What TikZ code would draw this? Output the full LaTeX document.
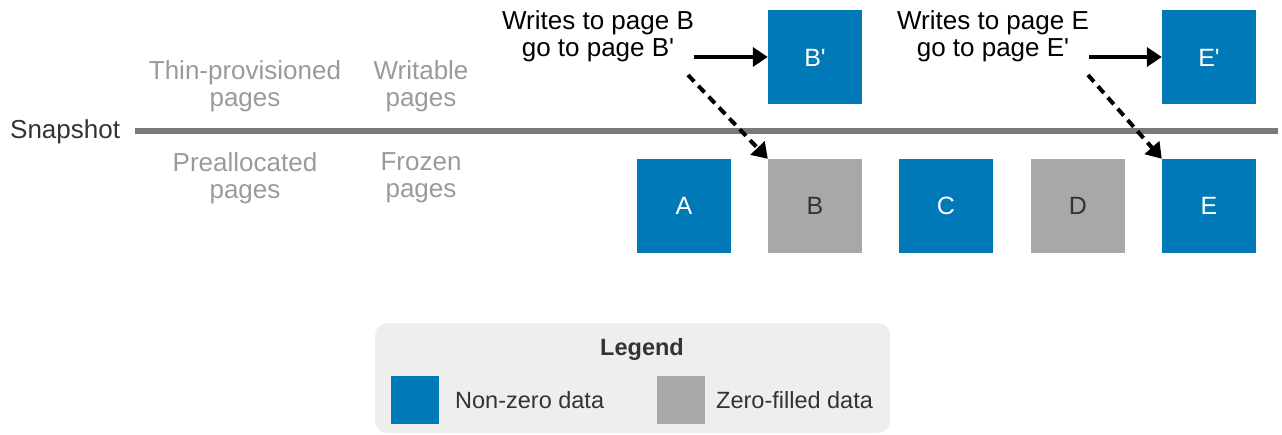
\documentclass[tikz,border=0pt]{standalone}
\usepackage{fontspec}
\setmainfont{Liberation Sans}[Ligatures=TeXOff]
\usetikzlibrary{arrows.meta}
\definecolor{pblue}{HTML}{0079B8}
\definecolor{pgray}{HTML}{A8A8A8}
\definecolor{lbl}{HTML}{9A9A9A}
\definecolor{dark}{HTML}{333333}
\definecolor{legbg}{HTML}{EEEEEE}
\tikzset{
  page/.style={minimum width=94pt, minimum height=94pt, inner sep=0pt, font=\fontsize{25}{26}\selectfont},
  nz/.style={page, fill=pblue, text=white},
  zf/.style={page, fill=pgray, text=dark},
  graylbl/.style={align=center, text=lbl, font=\fontsize{26}{27}\selectfont, inner sep=0pt},
  writelbl/.style={align=center, text=black, font=\fontsize{26}{27}\selectfont, inner sep=0pt},
  solidarr/.style={line width=4pt, -{Triangle[length=15pt,width=19pt]}},
  dasharr/.style={line width=4pt, dash pattern=on 9pt off 6pt, -{Triangle[length=15pt,width=19pt]}},
  legsq/.style={minimum width=48pt, minimum height=48pt, inner sep=0pt},
  legtxt/.style={text=dark, font=\fontsize{23.5}{25}\selectfont, inner sep=0pt, anchor=west}
}
\begin{document}
\begin{tikzpicture}[x=1pt,y=-1pt]
\useasboundingbox (0,0) rectangle (1282,435);
% snapshot line
\node[text=dark, font=\fontsize{26}{27}\selectfont, inner sep=0pt, anchor=west] (snap) at (10,132) {Snapshot};
\coordinate (ls) at (135,131);
\coordinate (le) at (1278,131);
\draw[line width=6pt, draw=gray!95!black] (ls) -- (le);
% gray labels
\node[graylbl] (thin) at (245,86) {Thin-provisioned\\pages};
\node[graylbl] (writ) at (421,86) {Writable\\pages};
\node[graylbl] (prea) at (245,178) {Preallocated\\pages};
\node[graylbl] (froz) at (421,178) {Frozen\\pages};
% pages
\node[nz] (Bp) at (815,57.5) {B'};
\node[nz] (Ep) at (1209,57.5) {E'};
\node[nz] (A) at (684,206) {A};
\node[zf] (B) at (815,206) {B};
\node[nz] (C) at (946,206) {C};
\node[zf] (D) at (1078,206) {D};
\node[nz] (E) at (1209,206) {E};
% write labels
\node[writelbl] (wb) at (598,36) {Writes to page B\\go to page B'};
\node[writelbl] (we) at (993,36) {Writes to page E\\go to page E'};
\draw[solidarr] (wb.east |- 0,57) -- (Bp.west |- 0,57);
\draw[solidarr] (we.east |- 0,57) -- (Ep.west |- 0,57);
\coordinate (db) at (688,75);
\coordinate (de) at (1088,75);
\draw[dasharr] (db) -- (B.north west);
\draw[dasharr] (de) -- (E.north west);
% legend
\node[draw=none, fill=legbg, rounded corners=12pt, minimum width=515pt, minimum height=110pt, anchor=north west] (leg) at (375,323) {};
\node[text=dark, font=\bfseries\fontsize{23.5}{25}\selectfont, inner sep=0pt] (legt) at (642,349) {Legend};
\node[legsq, fill=pblue] (lb) at (415,400) {};
\node[legtxt] (lbt) at (455,400) {Non-zero data};
\node[legsq, fill=pgray] (lg) at (681,400) {};
\node[legtxt] (lgt) at (716,400) {Zero-filled data};
\end{tikzpicture}
\end{document}
